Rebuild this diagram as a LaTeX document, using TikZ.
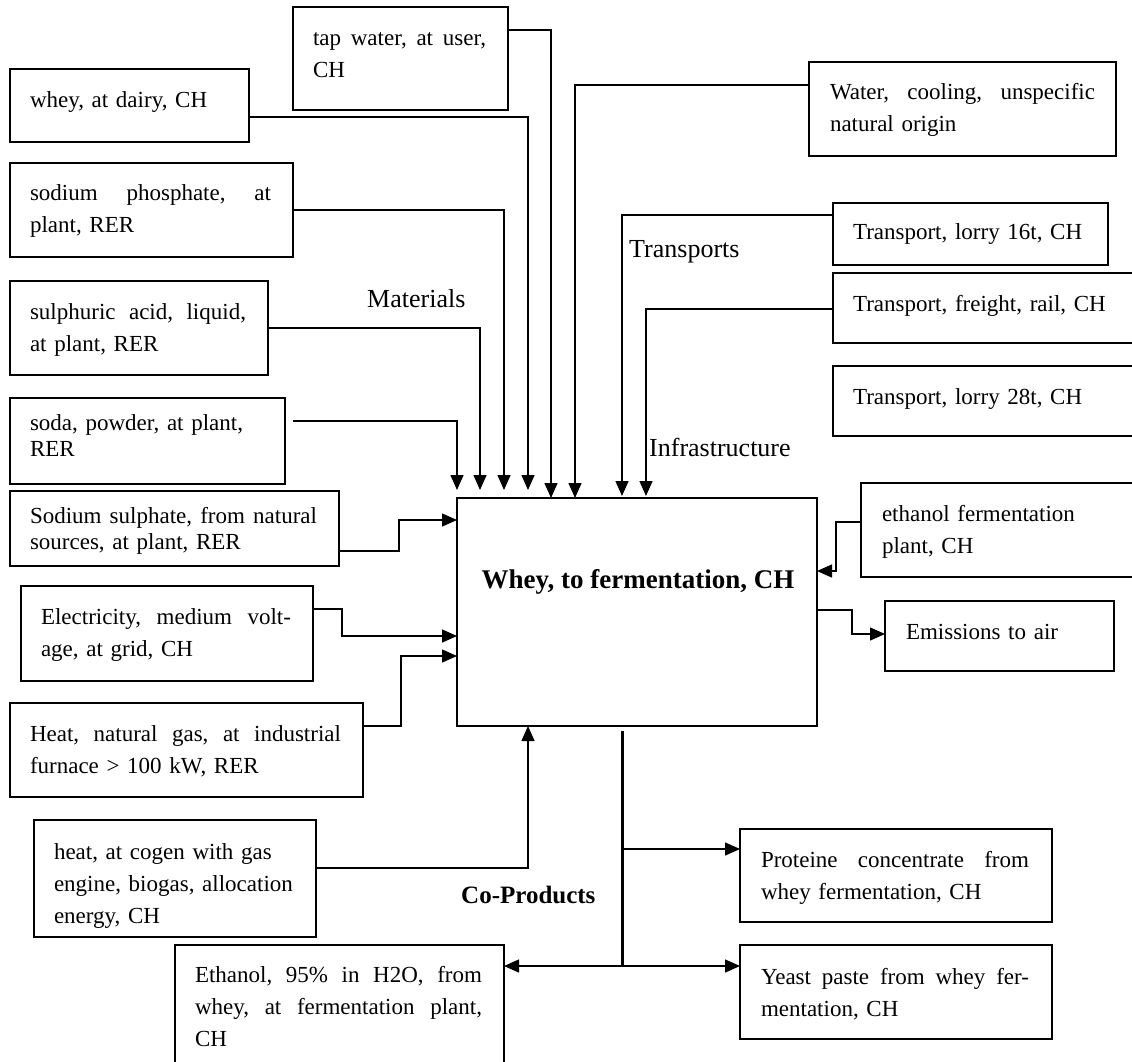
\documentclass[tikz,border=0pt]{standalone}
\usepackage{fontspec}
\setmainfont{Liberation Serif}
\usetikzlibrary{arrows.meta,fit}
\hbadness=10000
\hfuzz=20pt
% a justified line: its spaces stretch evenly over the whole text width
\newcommand\jl[1]{\leavevmode\hbox to\hsize{\frenchspacing\spaceskip=.25em plus 1fil\relax #1}}

\begin{document}
\begin{tikzpicture}[x=1pt,y=-1pt,
  box/.style={draw, line width=1.5pt, inner sep=0pt, outer sep=0pt},
  txt/.style={inner sep=0pt, outer sep=0pt, anchor=base west, align=left,
              font=\fontsize{23}{32}\selectfont},
  tight/.style={font=\fontsize{23}{26}\selectfont},
  lbl/.style={inner sep=0pt, anchor=base west, font=\fontsize{26}{30}\selectfont},
  conn/.style={line width=1.4pt},
  arr/.style={conn, -{Triangle[length=15pt,width=13pt]}},
  trunk/.style={line width=3pt},
]
\useasboundingbox (0,0) rectangle (1132,1061);
\fill[white] (0,0) rectangle (1132,1061);
\clip (0,0) rectangle (1132,1061);

% ---- central process
\node[box, fit={(457,498) (817,726)}] (main) {};
\node[anchor=base, inner sep=0pt, font=\fontsize{27}{32}\selectfont\bfseries] (title) at (638,588) {Whey, to fermentation, CH};

% ---- material inputs (left and top)
\node[box, fit={(293,7) (508,110)}] (tap) {};
\node[txt, text width=173pt] (tap-t) at (313,45) {\jl{tap water, at user,}\\CH};

\node[box, fit={(10,69) (249,142)}] (whey) {};
\node[txt, text width=200pt] (whey-t) at (30,107) {whey, at dairy, CH};

\node[box, fit={(10,163) (293,257)}] (sphos) {};
\node[txt, text width=241pt] (sphos-t) at (30,200) {\jl{sodium phosphate, at}\\plant, RER};

\node[box, fit={(10,281) (268,375)}] (sulph) {};
\node[txt, text width=216pt] (sulph-t) at (30,319) {\jl{sulphuric acid, liquid,}\\at plant, RER};

\node[box, fit={(10,398) (285,484)}] (soda) {};
\node[txt, tight, text width=233pt] (soda-t) at (30,430) {soda, powder, at plant,\\RER};

\node[box, fit={(10,491) (339,566)}] (ssulph) {};
\node[txt, tight, text width=287pt] (ssulph-t) at (30,523) {\jl{Sodium sulphate, from natural}\\sources, at plant, RER};

\node[box, fit={(21,586) (313,681)}] (elec) {};
\node[txt, text width=250pt] (elec-t) at (41,624) {\jl{Electricity, medium volt-}\\age, at grid, CH};

\node[box, fit={(10,703) (363,797)}] (heatng) {};
\node[txt, text width=311pt] (heatng-t) at (30,741) {\jl{Heat, natural gas, at industrial}\\furnace > 100 kW, RER};

\node[box, fit={(34,820) (316,937)}] (cogen) {};
\node[txt, text width=240pt] (cogen-t) at (54,859) {heat, at cogen with gas\\engine, biogas, allocation\\energy, CH};

\node[lbl] (materials) at (367,307) {Materials};

% ---- water, transports and infrastructure (right)
\node[box, fit={(809,62) (1116,156)}] (water) {};
\node[txt, text width=265pt] (water-t) at (830,99) {\jl{Water, cooling, unspecific}\\natural origin};

\node[box, fit={(833,203) (1108,265)}] (lorry16) {};
\node[txt, text width=240pt] (lorry16-t) at (853,239) {Transport, lorry 16t, CH};

\node[box, fit={(833,273) (1140,343)}] (freight) {};
\node[txt, text width=260pt] (freight-t) at (853,311) {Transport, freight, rail, CH};

\node[box, fit={(833,366) (1140,436)}] (lorry28) {};
\node[txt, text width=260pt] (lorry28-t) at (853,404) {Transport, lorry 28t, CH};

\node[lbl] (transports) at (629,257) {Transports};
\node[lbl] (infra) at (649,456) {Infrastructure};

\node[box, fit={(861,483) (1140,577)}] (eplant) {};
\node[txt, text width=230pt] (eplant-t) at (882,521) {ethanol fermentation\\plant, CH};

\node[box, fit={(885,601) (1114,671)}] (emis) {};
\node[txt, text width=190pt] (emis-t) at (906,639) {Emissions to air};

% ---- co-products
\node[box, fit={(740,829) (1052,922)}] (prot) {};
\node[txt, text width=268pt] (prot-t) at (761,867) {\jl{Proteine concentrate from}\\whey fermentation, CH};

\node[box, fit={(740,945) (1052,1039)}] (yeast) {};
\node[txt, text width=268pt] (yeast-t) at (761,984) {\jl{Yeast paste from whey fer-}\\mentation, CH};

\node[box, fit={(175,945) (504,1075)}] (ethanol) {};
\node[txt, text width=287pt] (ethanol-t) at (195,982) {\jl{Ethanol, 95\% in H2O, from}\\\jl{whey, at fermentation plant,}\\CH};

\node[anchor=base west, inner sep=0pt, font=\fontsize{25}{30}\selectfont\bfseries] (coprod) at (461,903) {Co-Products};

% ---- connectors into the top of the process
\draw[arr] ([shift={(8,23)}]soda.north east)   -| ([shift={(0,-8)}]main.north west);
\draw[arr] ([shift={(0,47)}]sulph.north east)  -| ([shift={(23,-8)}]main.north west);
\draw[arr] ([shift={(0,47)}]sphos.north east)  -| ([shift={(47,-8)}]main.north west);
\draw[arr] ([shift={(0,48)}]whey.north east)   -| ([shift={(71,-8)}]main.north west);
\draw[arr] ([shift={(0,23)}]tap.north east)    -| ([shift={(94,0)}]main.north west);
\draw[arr] ([shift={(0,23)}]water.north west)  -| ([shift={(118,0)}]main.north west);
\draw[arr] ([shift={(0,12)}]lorry16.north west) -| ([shift={(165,-2)}]main.north west);
\draw[arr] ([shift={(0,36)}]freight.north west) -| ([shift={(189,-2)}]main.north west);

% ---- connectors into the left side
\draw[arr] ([shift={(0,60)}]ssulph.north east) -| ([shift={(-58,22)}]main.north west)
           -- ([shift={(0,22)}]main.north west);
\draw[arr] ([shift={(0,23)}]elec.north east) -| ([shift={(-115,138)}]main.north west)
           -- ([shift={(0,138)}]main.north west);
\draw[arr] ([shift={(0,23)}]heatng.north east) -| ([shift={(-56,158)}]main.north west)
           -- ([shift={(0,158)}]main.north west);
\draw[arr] ([shift={(0,48)}]cogen.north east) -| ([shift={(71,0)}]main.south west);

% ---- right side
\draw[arr] ([shift={(0,39)}]eplant.north west) -| ([shift={(19,73)}]main.north east)
           -- ([shift={(0,73)}]main.north east);
\draw[arr] ([shift={(0,112)}]main.north east) -| ([shift={(-33,33)}]emis.north west)
           -- ([shift={(0,33)}]emis.north west);

% ---- co-product outputs
\coordinate (cpTop) at ([shift={(165,5)}]main.south west);
\coordinate (cpMid) at (622,849);
\coordinate (cpBot) at (622,966);
\draw[trunk] (cpTop) -- (cpBot);
\draw[arr] (cpMid) -- (cpMid -| prot.west);
\draw[arr] (cpBot) -- (cpBot -| yeast.west);
\draw[arr] (cpBot) -- (cpBot -| ethanol.east);
\end{tikzpicture}
\end{document}
